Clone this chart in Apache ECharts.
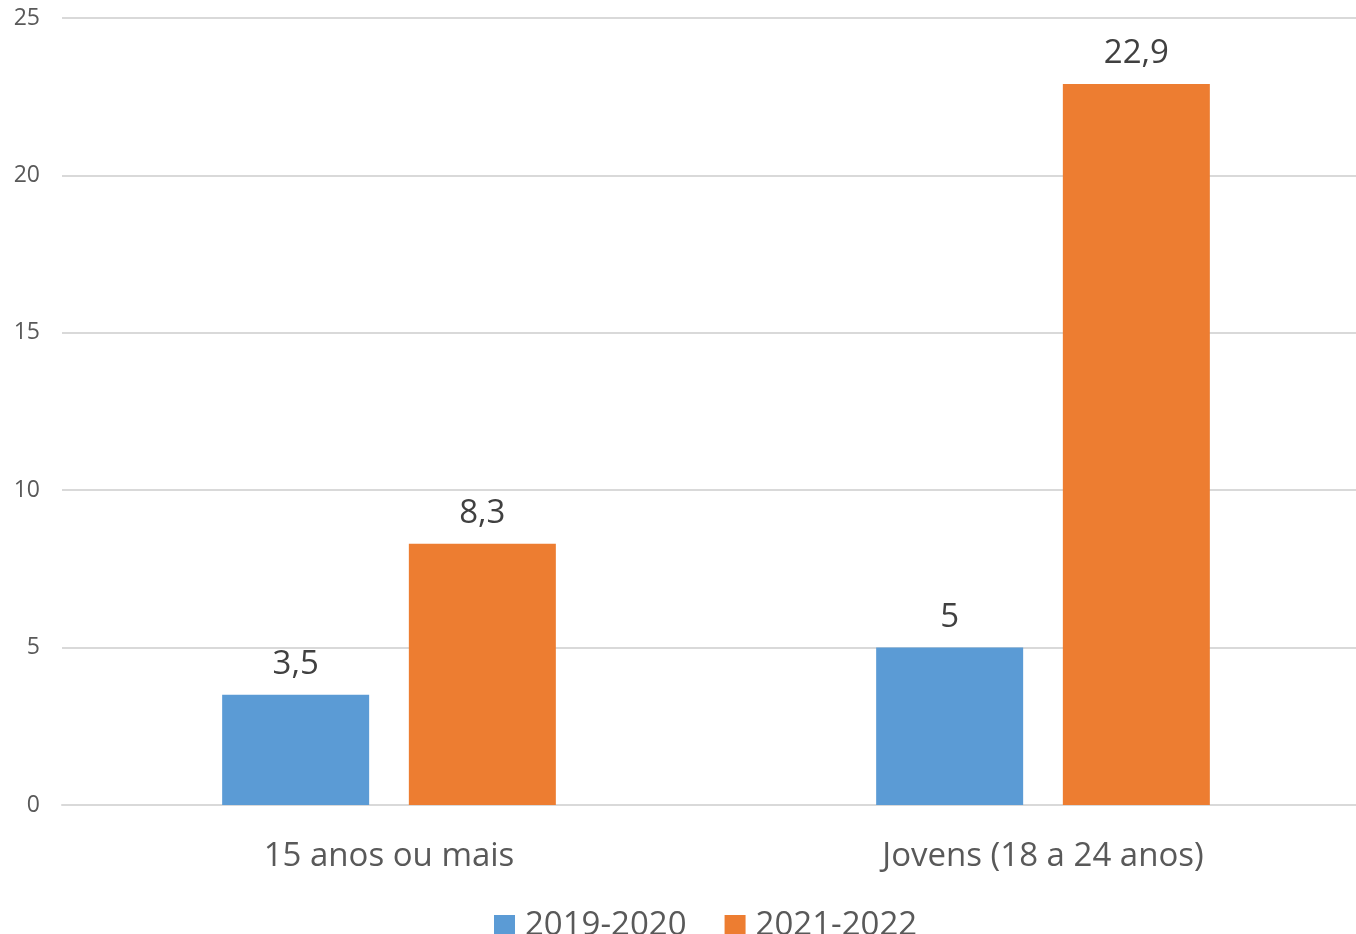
<!DOCTYPE html>
<html>
<head>
<meta charset="utf-8">
<script src="https://cdn.jsdelivr.net/npm/echarts@6/dist/echarts.min.js"></script>
<style>
  html, body { margin: 0; padding: 0; background: #fff; overflow: hidden; }
  #chart { width: 1370px; height: 934px; }
</style>
</head>
<body>
<div id="chart"></div>
<script>
var categories = ['15 anos ou mais', 'Jovens (18 a 24 anos)'];
var serie2019 = [3.5, 5];
var serie2021 = [8.3, 22.9];
var yTicks = [0, 5, 10, 15, 20, 25];

var fontFam = '"Open Sans", "Liberation Sans", sans-serif';

function fmt(p) {
    return String(p.value).replace('.', ',');
}

// the plot area runs a little past the right edge of the picture
var chart = echarts.init(document.getElementById('chart'));
chart.setOption({
    animation: false,
    textStyle: { fontFamily: fontFam },
    grid: { left: 62, top: 18, right: 0, bottom: 129 },
    legend: {
        left: 489,
        top: 904,
        itemWidth: 21,
        itemHeight: 21,
        itemGap: 38,
        icon: 'rect',
        textStyle: { fontSize: 33, color: '#595959', fontFamily: fontFam, padding: [0, 0, 0, 5] },
        data: ['2019-2020', '2021-2022']
    },
    xAxis: {
        type: 'category',
        data: categories,
        axisLine: { lineStyle: { color: '#D9D9D9', width: 2 } },
        axisTick: { show: false },
        axisLabel: { fontSize: 33, color: '#595959', margin: 35, fontFamily: fontFam }
    },
    yAxis: {
        type: 'value',
        min: yTicks[0],
        max: yTicks[yTicks.length - 1],
        interval: 5,
        axisLine: { show: false },
        axisTick: { show: false },
        splitLine: { lineStyle: { color: '#D9D9D9', width: 2 } },
        axisLabel: { fontSize: 23, color: '#595959', margin: 22, fontFamily: fontFam }
    },
    series: [
        {
            name: '2019-2020',
            type: 'bar',
            data: serie2019,
            barWidth: 147,
            barGap: '27%',
            itemStyle: { color: '#5B9BD5' },
            label: { show: true, position: 'top', distance: 14, fontSize: 33, color: '#404040', formatter: fmt, fontFamily: fontFam }
        },
        {
            name: '2021-2022',
            type: 'bar',
            data: serie2021,
            barWidth: 147,
            itemStyle: { color: '#ED7D31' },
            label: { show: true, position: 'top', distance: 14, fontSize: 33, color: '#404040', formatter: fmt, fontFamily: fontFam }
        }
    ]
});
</script>
</body>
</html>
